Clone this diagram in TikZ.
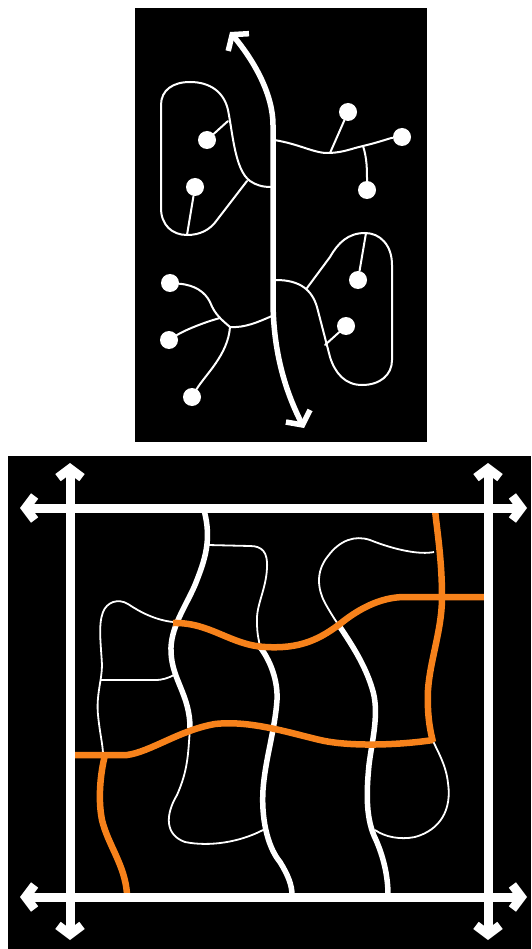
\documentclass[tikz,border=0pt]{standalone}
\usetikzlibrary{arrows.meta}
\definecolor{Amber}{HTML}{F7821B}
\tikzset{panel/.style={fill=black},trunk/.style={white,line width=5.5pt,{Straight Barb[length=10pt,width=27pt]}-{Straight Barb[length=10pt,width=27pt]}},twig/.style={white,line width=2pt,line cap=round},leaf/.style={circle,fill=white,minimum size=18pt,inner sep=0pt},axis/.style={white,line width=9pt,{Straight Barb[length=9pt,width=24pt]}-{Straight Barb[length=9pt,width=24pt]}},street/.style={white,line width=5.5pt},lane/.style={white,line width=1.8pt},route/.style={Amber,line width=6.5pt}}

\begin{document}
\begin{tikzpicture}[x=1pt,y=-1pt]
\useasboundingbox (0,0) rectangle (531,949);
\fill[panel] (135,8) rectangle (427,442);
\fill[panel] (8,456) rectangle (531,949);
% tree with two groups
\draw[trunk] (230,32) .. controls (255,62) and (273,95) .. (273,125) -- (273,300) .. controls (273,360) and (290,400) .. (304,428);
\coordinate (t1) at (271,187);
\coordinate (t2) at (274,140);
\coordinate (t3) at (272,316);
\coordinate (t4) at (276,280);
\draw[twig] (t1) .. controls (262,187) and (256,185) .. (250,181) .. controls (235,170) and (233,135) .. (228,110) .. controls (224,92) and (210,82) .. (190,82) .. controls (173,82) and (161,90) .. (161,105) -- (161,208) .. controls (161,225) and (172,235) .. (187,235) .. controls (200,235) and (210,230) .. (217,220) -- (247,181);
\node[leaf] (a1) at (207,140) {};
\node[leaf] (a2) at (195,187) {};
\draw[twig] (a1) -- (228,121);
\draw[twig] (a2) -- (187,235);
\node[leaf] (b1) at (348,112) {};
\node[leaf] (b2) at (402,137) {};
\node[leaf] (b3) at (367,190) {};
\coordinate (bj1) at (330,153);
\coordinate (bj2) at (363,146);
\draw[twig] (t2) .. controls (300,144) and (315,154) .. (bj1) .. controls (345,152) and (350,149) .. (bj2) .. controls (380,142) and (390,138) .. (b2);
\draw[twig] (bj1) -- (b1);
\draw[twig] (bj2) .. controls (367,158) and (367,170) .. (b3);
\node[leaf] (c1) at (170,283) {};
\node[leaf] (c2) at (169,340) {};
\node[leaf] (c3) at (192,397) {};
\coordinate (cj) at (230,327);
\draw[twig] (cj) .. controls (245,328) and (258,322) .. (t3);
\draw[twig] (c1) .. controls (195,285) and (205,292) .. (210,302) .. controls (215,315) and (222,320) .. (cj);
\draw[twig] (c2) .. controls (185,330) and (205,322) .. (220,318);
\draw[twig] (c3) .. controls (205,375) and (228,355) .. (cj);
\draw[twig] (t4) .. controls (300,280) and (312,290) .. (317,307) -- (330,357) .. controls (335,373) and (345,385) .. (362,385) .. controls (380,385) and (392,375) .. (392,360) -- (392,265) .. controls (392,245) and (380,233) .. (365,233) .. controls (348,233) and (338,243) .. (330,257) -- (307,288);
\node[leaf] (d1) at (358,280) {};
\node[leaf] (d2) at (346,326) {};
\draw[twig] (d1) -- (366,233);
\draw[twig] (d2) -- (325,345);
% grid with streets and route
\draw[lane] (173,622) .. controls (155,620) and (140,612) .. (128,604) .. controls (118,598) and (107,602) .. (103,612) .. controls (98,625) and (101,645) .. (102,665) .. controls (102,680) and (96,695) .. (98,715) .. controls (100,735) and (103,745) .. (103,755);
\draw[lane] (101,680) -- (155,680) .. controls (163,680) and (168,678) .. (174,675);
\draw[lane] (208,545) -- (250,546) .. controls (262,546) and (268,552) .. (267,568) .. controls (266,590) and (256,605) .. (257,622) .. controls (257,635) and (259,640) .. (260,647);
\draw[lane] (190,728) .. controls (188,755) and (188,770) .. (177,795) .. controls (165,815) and (165,835) .. (185,842) .. controls (210,847) and (240,842) .. (263,830);
\draw[lane] (434,552) .. controls (420,555) and (395,550) .. (370,540) .. controls (355,535) and (340,540) .. (328,556) .. controls (315,572) and (318,590) .. (325,603) .. controls (330,612) and (335,620) .. (340,627);
\draw[lane] (375,830) .. controls (385,837) and (400,840) .. (415,837) .. controls (440,830) and (452,810) .. (448,783) .. controls (446,765) and (438,752) .. (433,741);
\draw[street] (204,510) .. controls (212,540) and (205,560) .. (195,585) .. controls (185,608) and (170,628) .. (171,652) .. controls (172,680) and (190,695) .. (190,728);
\draw[street] (260,647) .. controls (270,660) and (278,680) .. (277,700) .. controls (275,730) and (265,760) .. (263,790) .. controls (261,825) and (270,850) .. (280,862) .. controls (288,875) and (292,885) .. (292,895);
\draw[street] (340,627) .. controls (352,645) and (365,665) .. (372,688) .. controls (380,712) and (372,740) .. (369,765) .. controls (366,795) and (366,820) .. (376,840) .. controls (383,856) and (388,875) .. (388,895);
\draw[route] (173,623) .. controls (210,622) and (230,645) .. (265,647) .. controls (300,649) and (320,640) .. (345,620) .. controls (365,605) and (385,597) .. (405,597) -- (485,597);
\draw[route] (72,755) -- (127,755) .. controls (150,752) and (180,730) .. (215,724) .. controls (250,720) and (290,733) .. (320,740) .. controls (350,747) and (400,745) .. (433,740);
\draw[route] (435,510) .. controls (437,530) and (442,560) .. (442,597) .. controls (442,630) and (430,660) .. (428,690) .. controls (427,715) and (430,730) .. (433,742);
\draw[route] (105,755) .. controls (100,775) and (98,800) .. (102,820) .. controls (108,845) and (125,865) .. (127,894);
\coordinate (nw) at (70,463);
\coordinate (sw) at (70,940);
\coordinate (ne) at (488,463);
\coordinate (se) at (488,940);
\coordinate (wn) at (20,508);
\coordinate (en) at (527,508);
\coordinate (ws) at (20,897);
\coordinate (es) at (527,897);
\draw[axis] (nw) -- (sw);
\draw[axis] (ne) -- (se);
\draw[axis] (wn) -- (en);
\draw[axis] (ws) -- (es);
\end{tikzpicture}
\end{document}
